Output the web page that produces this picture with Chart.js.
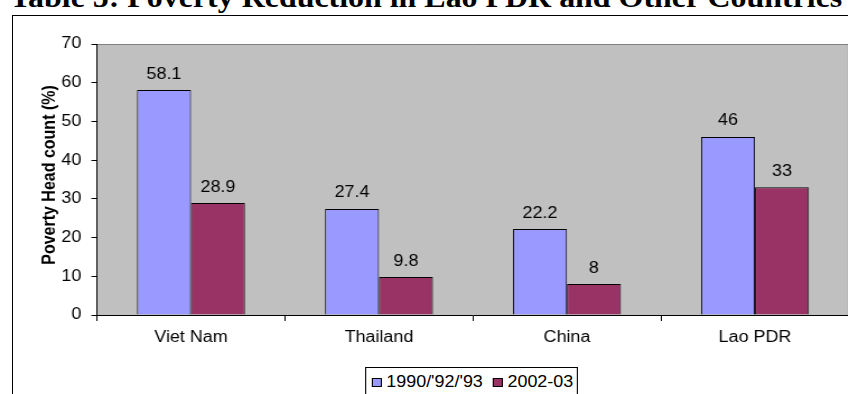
<!DOCTYPE html>
<html>
<head>
<meta charset="utf-8">
<script src="https://cdn.jsdelivr.net/npm/chart.js@4/dist/chart.umd.min.js"></script>
<style>
  html, body { margin: 0; padding: 0; background: #fff; overflow: hidden; width: 848px; height: 394px; }
  #title {
    position: absolute; left: 0; top: -16px; width: 852px;
    text-align: center; white-space: nowrap;
    font: bold 28.5px 'Liberation Serif', 'Times New Roman', serif; line-height: 28.5px;
    transform: scaleX(1.12); transform-origin: 50% 0;
  }
  #frame { position: absolute; left: 12px; top: 15px; width: 1000px; height: 1000px; border: 1px solid #000; }
  #wrap { position: absolute; left: 0; top: 0; width: 780px; height: 400px; transform: scaleX(1.12); transform-origin: 0 0; }
  #chart { position: absolute; left: 0; top: 0; }
  #legend {
    position: absolute; left: 325.9px; top: 367px; width: 190px; height: 40px;
    border: 1px solid #000; background: #fff; box-sizing: border-box;
    padding: 5px 0 0 5px; display: flex; flex-wrap: nowrap; align-items: flex-start;
    font: 16px 'Liberation Sans', Arial, sans-serif; line-height: 18px; color: #000; white-space: nowrap;
  }
  #legend .item { display: flex; align-items: center; margin-right: 9px; height: 18px; flex-shrink: 0; white-space: nowrap; }
  #legend .box { width: 7px; height: 7px; border: 1px solid #000; margin-right: 4px; flex-shrink: 0; }
</style>
</head>
<body>
<div id="title">Table 5: Poverty Reduction in Lao PDR and Other Countries</div>
<div id="frame"></div>
<div id="wrap">
  <canvas id="chart" width="780" height="400"></canvas>
  <div id="legend"></div>
</div>
<script>
// data
const categories = ['Viet Nam', 'Thailand', 'China', 'Lao PDR'];
const seriesNames = ["1990/'92/'93", '2002-03'];
const early = [58.1, 27.4, 22.2, 46];
const late = [28.9, 9.8, 8, 33];
const seriesColors = ['#9999FF', '#993366'];
const yTicks = [0, 10, 20, 30, 40, 50, 60, 70];
const yTitle = 'Poverty Head count (%)';

const FONT = "'Liberation Sans', Arial, sans-serif";

// grey plot area like the old excel charts
const plotBg = {
  id: 'plotBg',
  beforeDraw(chart) {
    const { ctx, chartArea: a } = chart;
    ctx.save();
    ctx.fillStyle = '#C0C0C0';
    ctx.fillRect(a.left, a.top, a.right - a.left, a.bottom - a.top);
    ctx.strokeStyle = '#808080';
    ctx.lineWidth = 1;
    ctx.beginPath();
    ctx.moveTo(a.left, a.top + 0.5);
    ctx.lineTo(a.right, a.top + 0.5);
    ctx.lineTo(a.right, a.bottom);
    ctx.stroke();
    ctx.restore();
  }
};

// value labels over the bars + rotated axis title
const labels = {
  id: 'labels',
  afterDatasetsDraw(chart) {
    const ctx = chart.ctx;
    ctx.save();
    ctx.font = '16px ' + FONT;
    ctx.fillStyle = '#000';
    ctx.textAlign = 'center';
    ctx.textBaseline = 'alphabetic';
    chart.data.datasets.forEach((ds, i) => {
      chart.getDatasetMeta(i).data.forEach((bar, j) => {
        ctx.fillText(String(ds.data[j]), bar.x, bar.y - 11.5);
      });
    });
    ctx.font = 'bold 16px ' + FONT;
    ctx.translate(49.1, 175);
    ctx.rotate(-Math.PI / 2);
    ctx.fillText(yTitle, 0, 0);
    ctx.restore();
  }
};

const legendEl = document.getElementById('legend');
seriesNames.forEach((name, i) => {
  const it = document.createElement('div');
  it.className = 'item';
  it.innerHTML = `<span class="box" style="background:${seriesColors[i]}"></span><span>${name}</span>`;
  legendEl.appendChild(it);
});

new Chart(document.getElementById('chart').getContext('2d'), {
  type: 'bar',
  data: {
    labels: categories,
    datasets: [
      { label: seriesNames[0], data: early, backgroundColor: seriesColors[0], borderColor: '#000', borderWidth: 1 },
      { label: seriesNames[1], data: late, backgroundColor: seriesColors[1], borderColor: '#000', borderWidth: 1 }
    ]
  },
  options: {
    responsive: false,
    animation: false,
    devicePixelRatio: 1,
    categoryPercentage: 0.574,
    barPercentage: 1,
    layout: { padding: { left: 0, top: 44, right: 22, bottom: 0 } },
    plugins: { legend: { display: false }, tooltip: { enabled: false } },
    scales: {
      x: {
        grid: { display: true, drawOnChartArea: false, offset: true, tickLength: 6, color: '#000' },
        border: { color: '#000' },
        ticks: { font: { size: 16, family: FONT }, color: '#000', padding: 7 },
        afterFit(s) { s.height = 85; }
      },
      y: {
        min: 0, max: 70,
        afterBuildTicks(s) { s.ticks = yTicks.map(v => ({ value: v })); },
        grid: { drawOnChartArea: false, tickLength: 5, color: '#000' },
        border: { color: '#000' },
        ticks: { font: { size: 16, family: FONT }, color: '#000', padding: 9 },
        afterFit(s) { s.width = 86.6; }
      }
    }
  },
  plugins: [plotBg, labels]
});
</script>
</body>
</html>
